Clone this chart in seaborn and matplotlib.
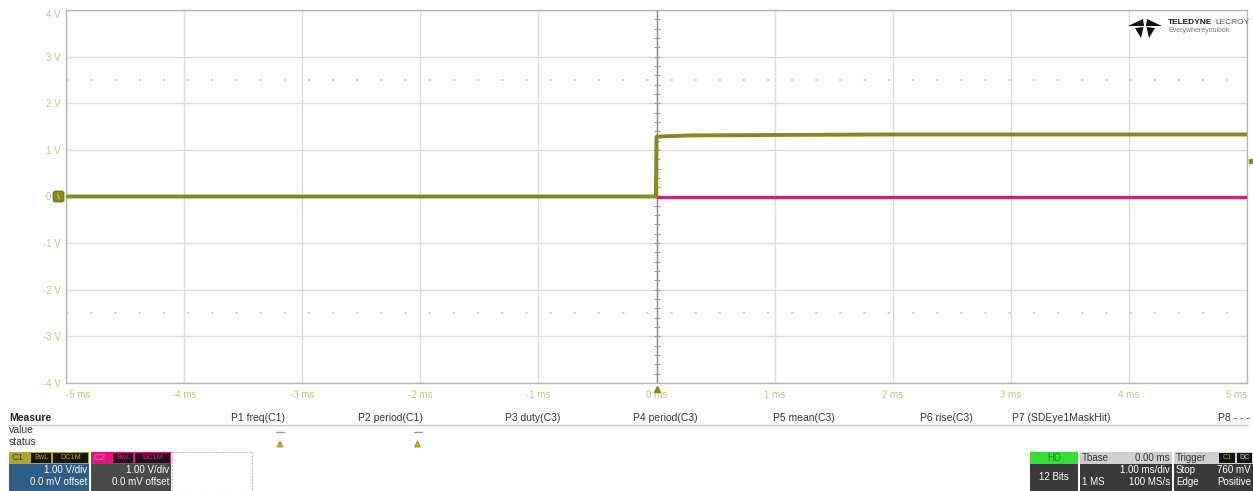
import numpy as np
import pandas as pd
import matplotlib
matplotlib.use("Agg")
import matplotlib.pyplot as plt
import matplotlib.transforms as mtransforms
from matplotlib.patches import Rectangle, Polygon, FancyBboxPatch
import seaborn as sns

# ---- waveform data (time in ms, amplitude in V) ----
c1_time = [-5.0, -2.5, -0.005, 0.0, 0.05, 0.3, 1.0, 2.0, 3.0, 4.0, 5.0]
c1_volts = [0.0, 0.0, 0.0, 1.28, 1.29, 1.31, 1.32, 1.33, 1.33, 1.33, 1.33]
c2_time = [0.0, 2.5, 5.0]
c2_volts = [0.0, 0.0, 0.0]

trigger_time = 0.0      # ms
trigger_level = 0.76    # V
c1_offset = 0.0         # V
mask_levels = [2.5, -2.5]

x_ticks = [-5, -4, -3, -2, -1, 0, 1, 2, 3, 4, 5]
x_tick_labels = ["-5 ms", "-4 ms", "-3 ms", "-2 ms", "-1 ms", "0 ms",
                 "1 ms", "2 ms", "3 ms", "4 ms", "5 ms"]
y_ticks = [4, 3, 2, 1, 0, -1, -2, -3, -4]
y_tick_labels = ["4 V", "3 V", "2 V", "1 V", "0 V", "-1 V", "-2 V", "-3 V", "-4 V"]

measure_names = ["P1 freq(C1)", "P2 period(C1)", "P3 duty(C3)", "P4 period(C3)",
                 "P5 mean(C3)", "P6 rise(C3)", "P7 (SDEye1MaskHit)", "P8 - - -"]
measure_has_status = [True, True, False, False, False, False, False, False]

C1_COLOR = "#858a1e"
C2_COLOR = "#c42a72"
TICK_COLOR = "#c3c37e"

sns.set_style("white")
plt.rcParams["font.family"] = ["Liberation Sans", "DejaVu Sans"]

W, H = 1253, 491
fig = plt.figure(figsize=(W / 100, H / 100), dpi=100)
fig.patch.set_facecolor("white")

# pixel coordinate transform (origin at the top-left corner)
px = mtransforms.Affine2D().scale(1 / W, -1 / H).translate(0, 1) + fig.transFigure

ax = fig.add_axes([66 / W, 1 - 383 / H, (1247 - 66) / W, (383 - 10) / H])

df = pd.DataFrame({
    "t": c1_time + c2_time,
    "v": c1_volts + c2_volts,
    "ch": ["C1"] * len(c1_time) + ["C2"] * len(c2_time),
})
sns.lineplot(data=df[df.ch == "C2"], x="t", y="v", color=C2_COLOR, lw=2.4,
             estimator=None, sort=False, ax=ax, legend=False, zorder=4)
sns.lineplot(data=df[df.ch == "C1"], x="t", y="v", color=C1_COLOR, lw=2.8,
             estimator=None, sort=False, ax=ax, legend=False, zorder=5)

ax.set_xlim(-5, 5)
ax.set_ylim(-4, 4)
ax.set_xticks(x_ticks)
ax.set_xticklabels(x_tick_labels)
ax.set_yticks(y_ticks)
ax.set_yticklabels(y_tick_labels)
ax.set_xlabel("")
ax.set_ylabel("")
ax.tick_params(axis="both", length=0, colors=TICK_COLOR, labelsize=7)
ax.tick_params(axis="x", pad=5)
ax.tick_params(axis="y", pad=4)
xl = ax.get_xticklabels()
xl[0].set_ha("left")
xl[-1].set_ha("right")
ax.get_yticklabels()[0].set_va("top")
ax.grid(True, color="#dcdcdc", lw=1)
for s in ax.spines.values():
    s.set_color("#b4b4b4")
    s.set_linewidth(1)

# centre graticule line with minor divisions
ax.axvline(trigger_time, color="#8a8a8a", lw=1, zorder=2)
minor = np.arange(-4, 4.01, 0.2)
ax.plot(np.full_like(minor, trigger_time), minor, ls="none", marker="_",
        ms=4, mew=0.8, color="#9a9a9a", zorder=2)

# dotted mask thresholds
for lvl in mask_levels:
    ax.axhline(lvl, color="#c8c8c8", lw=1.2, ls=(0, (1.5, 13)), zorder=1)

# trigger indicators
ax.plot([trigger_time], [-4.13], marker="^", ms=5, color=C1_COLOR,
        clip_on=False, zorder=6)
ax.plot([5.03], [trigger_level], marker="s", ms=2.5, color=C1_COLOR,
        clip_on=False, zorder=6)

# channel ground marker (rounded tab just left of the graticule)
y_px = ax.transData.transform((0, c1_offset))[1]
gy = H - y_px
tab = FancyBboxPatch((53, gy - 5.5), 11, 11, boxstyle="round,pad=0,rounding_size=2.5",
                     fc=C1_COLOR, ec="#6a6a10", lw=0.6, transform=px, zorder=7)
fig.patches.append(tab)
fig.add_artist(plt.Line2D([57.5, 59.5], [gy - 2, gy + 2.5], transform=px,
                          color="#c8c890", lw=0.8, zorder=8))

# ---- logo ----
logo_x, logo_y = 1145, 27
wing_l = [(logo_x - 17, logo_y - 1), (logo_x - 2, logo_y - 8), (logo_x - 1, logo_y - 1)]
wing_r = [(logo_x + 17, logo_y - 1), (logo_x + 2, logo_y - 8), (logo_x + 1, logo_y - 1)]
leg_l = [(logo_x - 1.5, logo_y), (logo_x - 10, logo_y + 1), (logo_x - 4, logo_y + 11)]
leg_r = [(logo_x + 1.5, logo_y), (logo_x + 10, logo_y + 1), (logo_x + 4, logo_y + 11)]
for pts in (wing_l, wing_r, leg_l, leg_r):
    fig.patches.append(Polygon(pts, closed=True, fc="#111111", ec="none", transform=px))
fig.text(1168, 26, "TELEDYNE", transform=px, fontsize=6, fontweight="bold",
         color="#1a1a1a", va="bottom")
fig.text(1215, 26, "LECROY", transform=px, fontsize=6, color="#555555", va="bottom")
fig.text(1168, 34, "Everywhereyoulook", transform=px, fontsize=5, color="#777777",
         va="bottom")

# ---- measurement table ----
fig.text(9, 418, "Measure", transform=px, fontsize=7.5, fontweight="bold",
         color="#222222", va="center")
fig.text(9, 430, "value", transform=px, fontsize=7.5, color="#333333", va="center")
fig.text(9, 442, "status", transform=px, fontsize=7.5, color="#333333", va="center")
fig.add_artist(plt.Line2D([8, 1248], [425, 425], transform=px, color="#c8c8c8", lw=1))
col_w = 137.5
for i, (name, has_st) in enumerate(zip(measure_names, measure_has_status)):
    xr = 285 + i * col_w + (2 if i == 7 else 0)
    fig.text(xr, 418, name, transform=px, fontsize=7.5, color="#333333",
             ha="right", va="center")
    if has_st:
        xc = xr - 5
        fig.add_artist(plt.Line2D([xc - 4, xc + 4], [432, 432], transform=px,
                                  color="#9a9a9a", lw=1))
        fig.patches.append(Polygon([(xc - 3, 447), (xc + 3, 447), (xc, 441)], closed=True,
                                   fc="#c8a830", ec="#9a8020", lw=0.5, transform=px))


def box(x, y, w, h, fc, ec="none", **kw):
    fig.patches.append(Rectangle((x, y), w, h, fc=fc, ec=ec, transform=px, **kw))


def label(x, y, s, color, ha="left", size=6.8, **kw):
    fig.text(x, y, s, transform=px, fontsize=size, color=color, ha=ha, va="center", **kw)


# channel descriptors
for x0, name, head_fc, head_tc, tag_fc, tag_tc, body_fc in [
        (9, "C1", "#a9a82a", "#3a3a08", "#161606", "#a9a82a", "#2e5d86"),
        (91, "C2", "#e0187e", "#f070b0", "#24101a", "#d0207a", "#4a4a4a")]:
    box(x0, 452, 80, 12, head_fc)
    box(x0 + 22, 453, 20, 10, tag_fc)
    box(x0 + 44, 453, 35, 10, tag_fc)
    label(x0 + 2, 458, name, head_tc, size=6.8)
    label(x0 + 32, 458, "BwL", tag_tc, ha="center", size=5.2)
    label(x0 + 61.5, 458, "DC1M", tag_tc, ha="center", size=5.2)
    box(x0, 464, 80, 27, body_fc)
    label(x0 + 78, 470, "1.00 V/div", "white", ha="right", size=7)
    label(x0 + 78, 482, "0.0 mV offset", "white", ha="right", size=7)
box(172, 452, 80, 39, "none", ec="#b0b0b0", lw=0.8, ls=(0, (1.5, 1.5)))

# acquisition / timebase / trigger descriptors
box(1030, 452, 48, 12, "#35dd35")
label(1054, 458, "HD", "#1a8a1a", ha="center", size=7)
box(1030, 464, 48, 27, "#3a3a3a")
label(1054, 477, "12 Bits", "white", ha="center", size=7)

box(1080, 452, 92, 12, "#cfcfcf")
label(1082, 458, "Tbase", "#333333", size=7)
label(1170, 458, "0.00 ms", "#333333", ha="right", size=7)
box(1080, 464, 92, 27, "#3a3a3a")
label(1170, 470, "1.00 ms/div", "white", ha="right", size=7)
label(1082, 482, "1 MS", "white", size=7)
label(1170, 482, "100 MS/s", "white", ha="right", size=7)

box(1174, 452, 79, 12, "#cfcfcf")
label(1176, 458, "Trigger", "#333333", size=7)
box(1219, 453, 16, 10, "#141414")
box(1237, 453, 15, 10, "#141414")
label(1227, 458, "C1", "#a9a82a", ha="center", size=5.2)
label(1244.5, 458, "DC", "#cccccc", ha="center", size=5.2)
box(1174, 464, 79, 27, "#3a3a3a")
label(1176, 470, "Stop", "white", size=7)
label(1251, 470, f"{trigger_level * 1000:.0f} mV", "white", ha="right", size=7)
label(1176, 482, "Edge", "white", size=7)
label(1251, 482, "Positive", "white", ha="right", size=7)

fig.savefig("out.png", dpi=100, facecolor="white")
